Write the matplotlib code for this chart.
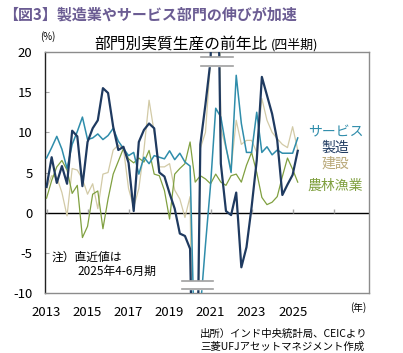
import numpy as np
import matplotlib
matplotlib.use("Agg")
import matplotlib.pyplot as plt

plt.rcParams['font.family'] = ['Noto Sans CJK JP', 'DejaVu Sans']

# ---------------- data (quarterly, 2013Q1 .. 2025Q2) ----------------
years = ['2013', '2015', '2017', '2019', '2021', '2023', '2025', '']
manufacturing = [3.2, 6.9, 3.7, 5.8, 3.6, 10.2, 9.5, 3.3, 8.8, 10.5,
                 11.5, 15.5, 14.9, 10.7, 7.8, 8.2, 6.2, 0.2, 8.8, 10.3,
                 11.1, 10.5, 5.0, 4.5, 2.4, 0.5, -2.6, -2.9, -4.5, -38.0,
                 8.5, 13.5, 19.0, 49.0, 6.1, 0.2, -0.3, 2.5, -6.8, -4.3,
                 0.7, 6.5, 16.9, 14.6, 12.3, 9.0, 2.2, 3.5, 4.7, 7.7]
services = [6.8, 8.1, 9.5, 7.9, 5.5, 8.5, 10.1, 11.9, 9.1, 9.3,
            9.8, 9.1, 9.6, 10.5, 8.9, 8.0, 7.1, 7.5, 4.8, 6.9,
            6.1, 7.1, 6.9, 6.7, 7.7, 6.6, 7.4, 6.3, 5.8, -20.0,
            -12.0, -4.0, 3.5, 13.0, 11.9, 8.2, 5.0, 17.1, 11.1, 7.5,
            7.5, 12.5, 7.5, 8.2, 7.2, 7.8, 7.4, 7.4, 7.4, 9.3]
construction = [3.0, 4.6, 4.4, 2.5, -0.4, 5.5, 5.3, 4.2, 2.3, 3.6,
                0.5, 4.8, 5.0, 7.8, 8.4, 8.0, 3.0, 0.7, 3.0, 7.8,
                14.0, 10.0, 5.7, 5.7, 6.1, 2.8, 1.7, -0.6, 2.0, -50.0,
                8.0, 10.0, 19.0, 70.0, 10.5, 8.0, 5.5, 11.5, 8.5, 9.0,
                9.0, 7.5, 14.2, 11.5, 10.0, 9.2, 8.5, 8.1, 10.7, 7.8]
agriculture = [1.8, 4.0, 5.7, 6.5, 5.3, 2.4, 3.4, -3.1, -1.7, 2.3,
               2.7, -2.0, 1.7, 4.8, 6.4, 8.0, 6.7, 6.2, 6.8, 6.3,
               7.75, 4.8, 4.6, 2.75, -0.8, 4.8, 5.5, 6.1, 8.8, 3.8,
               4.6, 4.2, 3.6, 4.8, 3.8, 3.4, 4.6, 4.8, 3.8, 5.9,
               7.5, 5.0, 1.9, 1.0, 1.3, 2.0, 4.5, 6.8, 5.4, 3.8]
series_names = ['サービス', '製造', '建設', '農林漁業']

C_SERV = '#2F8DAB'
C_MANU = '#1F3A60'
C_CONS = '#D2CAA6'
C_AGRI = '#80A040'
C_CONS_TXT = '#B9A878'

W, H = 403, 353
fig = plt.figure(figsize=(W / 100, H / 100), dpi=100)

def fx(px):
    return px / W

def fy(py):
    return 1 - py / H

ax = fig.add_axes([fx(45), fy(293), (369 - 45) / W, (293 - 52) / H])
x = np.arange(len(manufacturing))

ax.plot(x, construction, color=C_CONS, lw=0.9, zorder=3)
ax.plot(x, agriculture, color=C_AGRI, lw=0.9, zorder=3)
ax.plot(x, services, color=C_SERV, lw=1.1, zorder=4)
ax.plot(x, manufacturing, color=C_MANU, lw=1.6, zorder=5)
ax.axhline(0, color='black', lw=1.0, zorder=2)

ax.set_xlim(-0.3, 62.9)
ax.set_ylim(-10, 20)

# x ticks (years every 2 years)
xt = np.arange(0, 8 * len(years), 8)
ax.set_xticks(xt)
ax.set_xticklabels(years, fontsize=9.5)
ax.tick_params(axis='x', length=0, pad=9)
ax.vlines(xt, 0, 0.5, color='#A6A6A6', lw=1.0, zorder=2)

yt = np.arange(-10, 21, 5)
ax.set_yticks(yt)
ax.set_yticklabels([str(v) for v in yt], fontsize=9.5)
ax.tick_params(axis='y', direction='in', length=3, color='#A6A6A6', pad=9)

for s in ['top', 'right', 'bottom']:
    ax.spines[s].set_color('#8C8C8C')
    ax.spines[s].set_linewidth(1.0)
ax.spines['left'].set_color('#222222')
ax.spines['left'].set_linewidth(1.0)

# axis-break marks
ax.fill_between([30.1, 36.4], 18.3, 19.4, color='white', zorder=6)
ax.plot([30.1, 36.4], [19.4, 19.4], color='#A0A0A0', lw=1.2, zorder=7)
ax.plot([30.1, 36.4], [18.3, 18.3], color='#A0A0A0', lw=1.2, zorder=7)
ax.fill_between([26.5, 32.4], -9.5, -8.5, color='white', zorder=6)
ax.plot([26.5, 32.4], [-8.5, -8.5], color='#A0A0A0', lw=1.2, zorder=7)
ax.plot([26.5, 32.4], [-9.5, -9.5], color='#A0A0A0', lw=1.2, zorder=7)

# series labels
fig.text(fx(336), fy(132), series_names[0], color=C_SERV, fontsize=10, ha='center', va='center')
fig.text(fx(335), fy(148), series_names[1], color=C_MANU, fontsize=10, ha='center', va='center')
fig.text(fx(335), fy(164), series_names[2], color=C_CONS_TXT, fontsize=10, ha='center', va='center')
fig.text(fx(335), fy(186), series_names[3], color=C_AGRI, fontsize=10, ha='center', va='center')

# titles
fig.text(fx(3), fy(14), '【図3】製造業やサービス部門の伸びが加速', color='#6B5C93',
         fontsize=10.8, fontweight='bold', ha='left', va='center')
fig.text(fx(268), fy(44), '部門別実質生産の前年比', color='black', fontsize=11.3,
         ha='right', va='center')
fig.text(fx(271), fy(45), '(四半期)', color='black', fontsize=9.3, ha='left', va='center')
fig.text(fx(40), fy(37), '(%)', color='black', fontsize=7, ha='left', va='center')
fig.text(fx(358), fy(308), '(年)', color='black', fontsize=7, ha='center', va='center')

# note
fig.text(fx(52), fy(257), '注）直近値は', color='black', fontsize=8.5, ha='left', va='center')
fig.text(fx(77), fy(271), '2025年4-6月期', color='black', fontsize=8.5, ha='left', va='center')

# source
fig.text(fx(367), fy(334), '出所）インド中央統計局、CEICより', color='black', fontsize=7.5,
         ha='right', va='center')
fig.text(fx(364), fy(347), '三菱UFJアセットマネジメント作成', color='black', fontsize=7.5,
         ha='right', va='center')

fig.savefig('out.png', dpi=100)
